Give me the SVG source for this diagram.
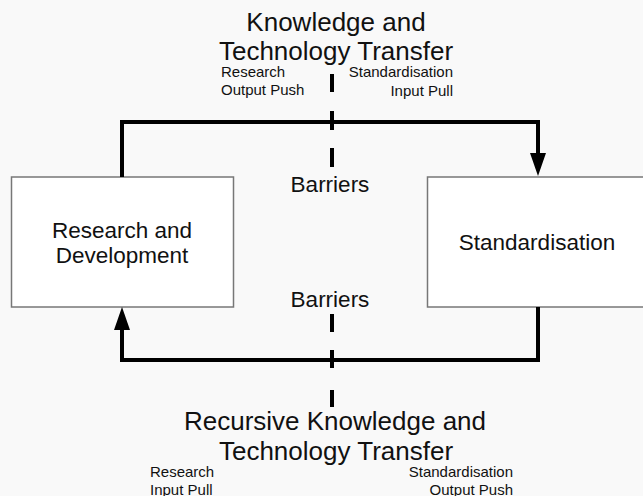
<svg xmlns="http://www.w3.org/2000/svg" width="643" height="496" viewBox="0 0 643 496">
<style>
text{font-family:"Liberation Sans",Arial,Helvetica,sans-serif;fill:#111}
.title{font-size:26px}
.small{font-size:15px}
.lbl{font-size:22.5px}
.box{fill:#ffffff;stroke:#777;stroke-width:1.5}
.flow{fill:none;stroke:#000;stroke-width:4;stroke-linejoin:miter}
.dash{stroke:#000;stroke-width:4}
</style>
<defs>
<marker id="ah" markerUnits="userSpaceOnUse" markerWidth="24" markerHeight="16" refX="0" refY="8" orient="auto">
<path d="M0,0 L23,8 L0,16 z" fill="#000"/>
</marker>
</defs>
<rect width="643" height="496" fill="#f9f9f9"/>
<g id="rd">
<rect class="box" x="11.5" y="177" width="222" height="130"/>
<text class="lbl" x="122" y="238" text-anchor="middle">Research and</text>
<text class="lbl" x="122" y="263" text-anchor="middle">Development</text>
</g>
<g id="std">
<rect class="box" x="427.5" y="177" width="230" height="130"/>
<text class="lbl" x="537" y="250" text-anchor="middle">Standardisation</text>
</g>
<g id="connectors">
<path class="flow" d="M122,177 V122 H538 V153" marker-end="url(#ah)"/>
<path class="flow" d="M538,307 V360 H122 V330" marker-end="url(#ah)"/>
<line class="dash" x1="332" y1="74" x2="332" y2="92"/>
<line class="dash" x1="332" y1="111" x2="332" y2="130"/>
<line class="dash" x1="332" y1="148" x2="332" y2="167"/>
<line class="dash" x1="332" y1="314" x2="332" y2="332"/>
<line class="dash" x1="332" y1="350" x2="332" y2="368"/>
<line class="dash" x1="332" y1="390" x2="332" y2="407"/>
</g>
<g id="top-label">
<text class="title" x="336" y="31" text-anchor="middle">Knowledge and</text>
<text class="title" x="336" y="60" text-anchor="middle">Technology Transfer</text>
<text class="small" x="221" y="77">Research</text>
<text class="small" x="221" y="95">Output Push</text>
<text class="small" x="453" y="77" text-anchor="end">Standardisation</text>
<text class="small" x="453" y="96" text-anchor="end">Input Pull</text>
</g>
<g id="barriers">
<text class="lbl" x="330" y="192" text-anchor="middle">Barriers</text>
<text class="lbl" x="330" y="307" text-anchor="middle">Barriers</text>
</g>
<g id="bottom-label">
<text class="title" x="335" y="430" text-anchor="middle">Recursive Knowledge and</text>
<text class="title" x="336" y="460" text-anchor="middle">Technology Transfer</text>
<text class="small" x="150" y="477">Research</text>
<text class="small" x="150" y="495">Input Pull</text>
<text class="small" x="513" y="477" text-anchor="end">Standardisation</text>
<text class="small" x="513" y="495" text-anchor="end">Output Push</text>
</g>
</svg>
